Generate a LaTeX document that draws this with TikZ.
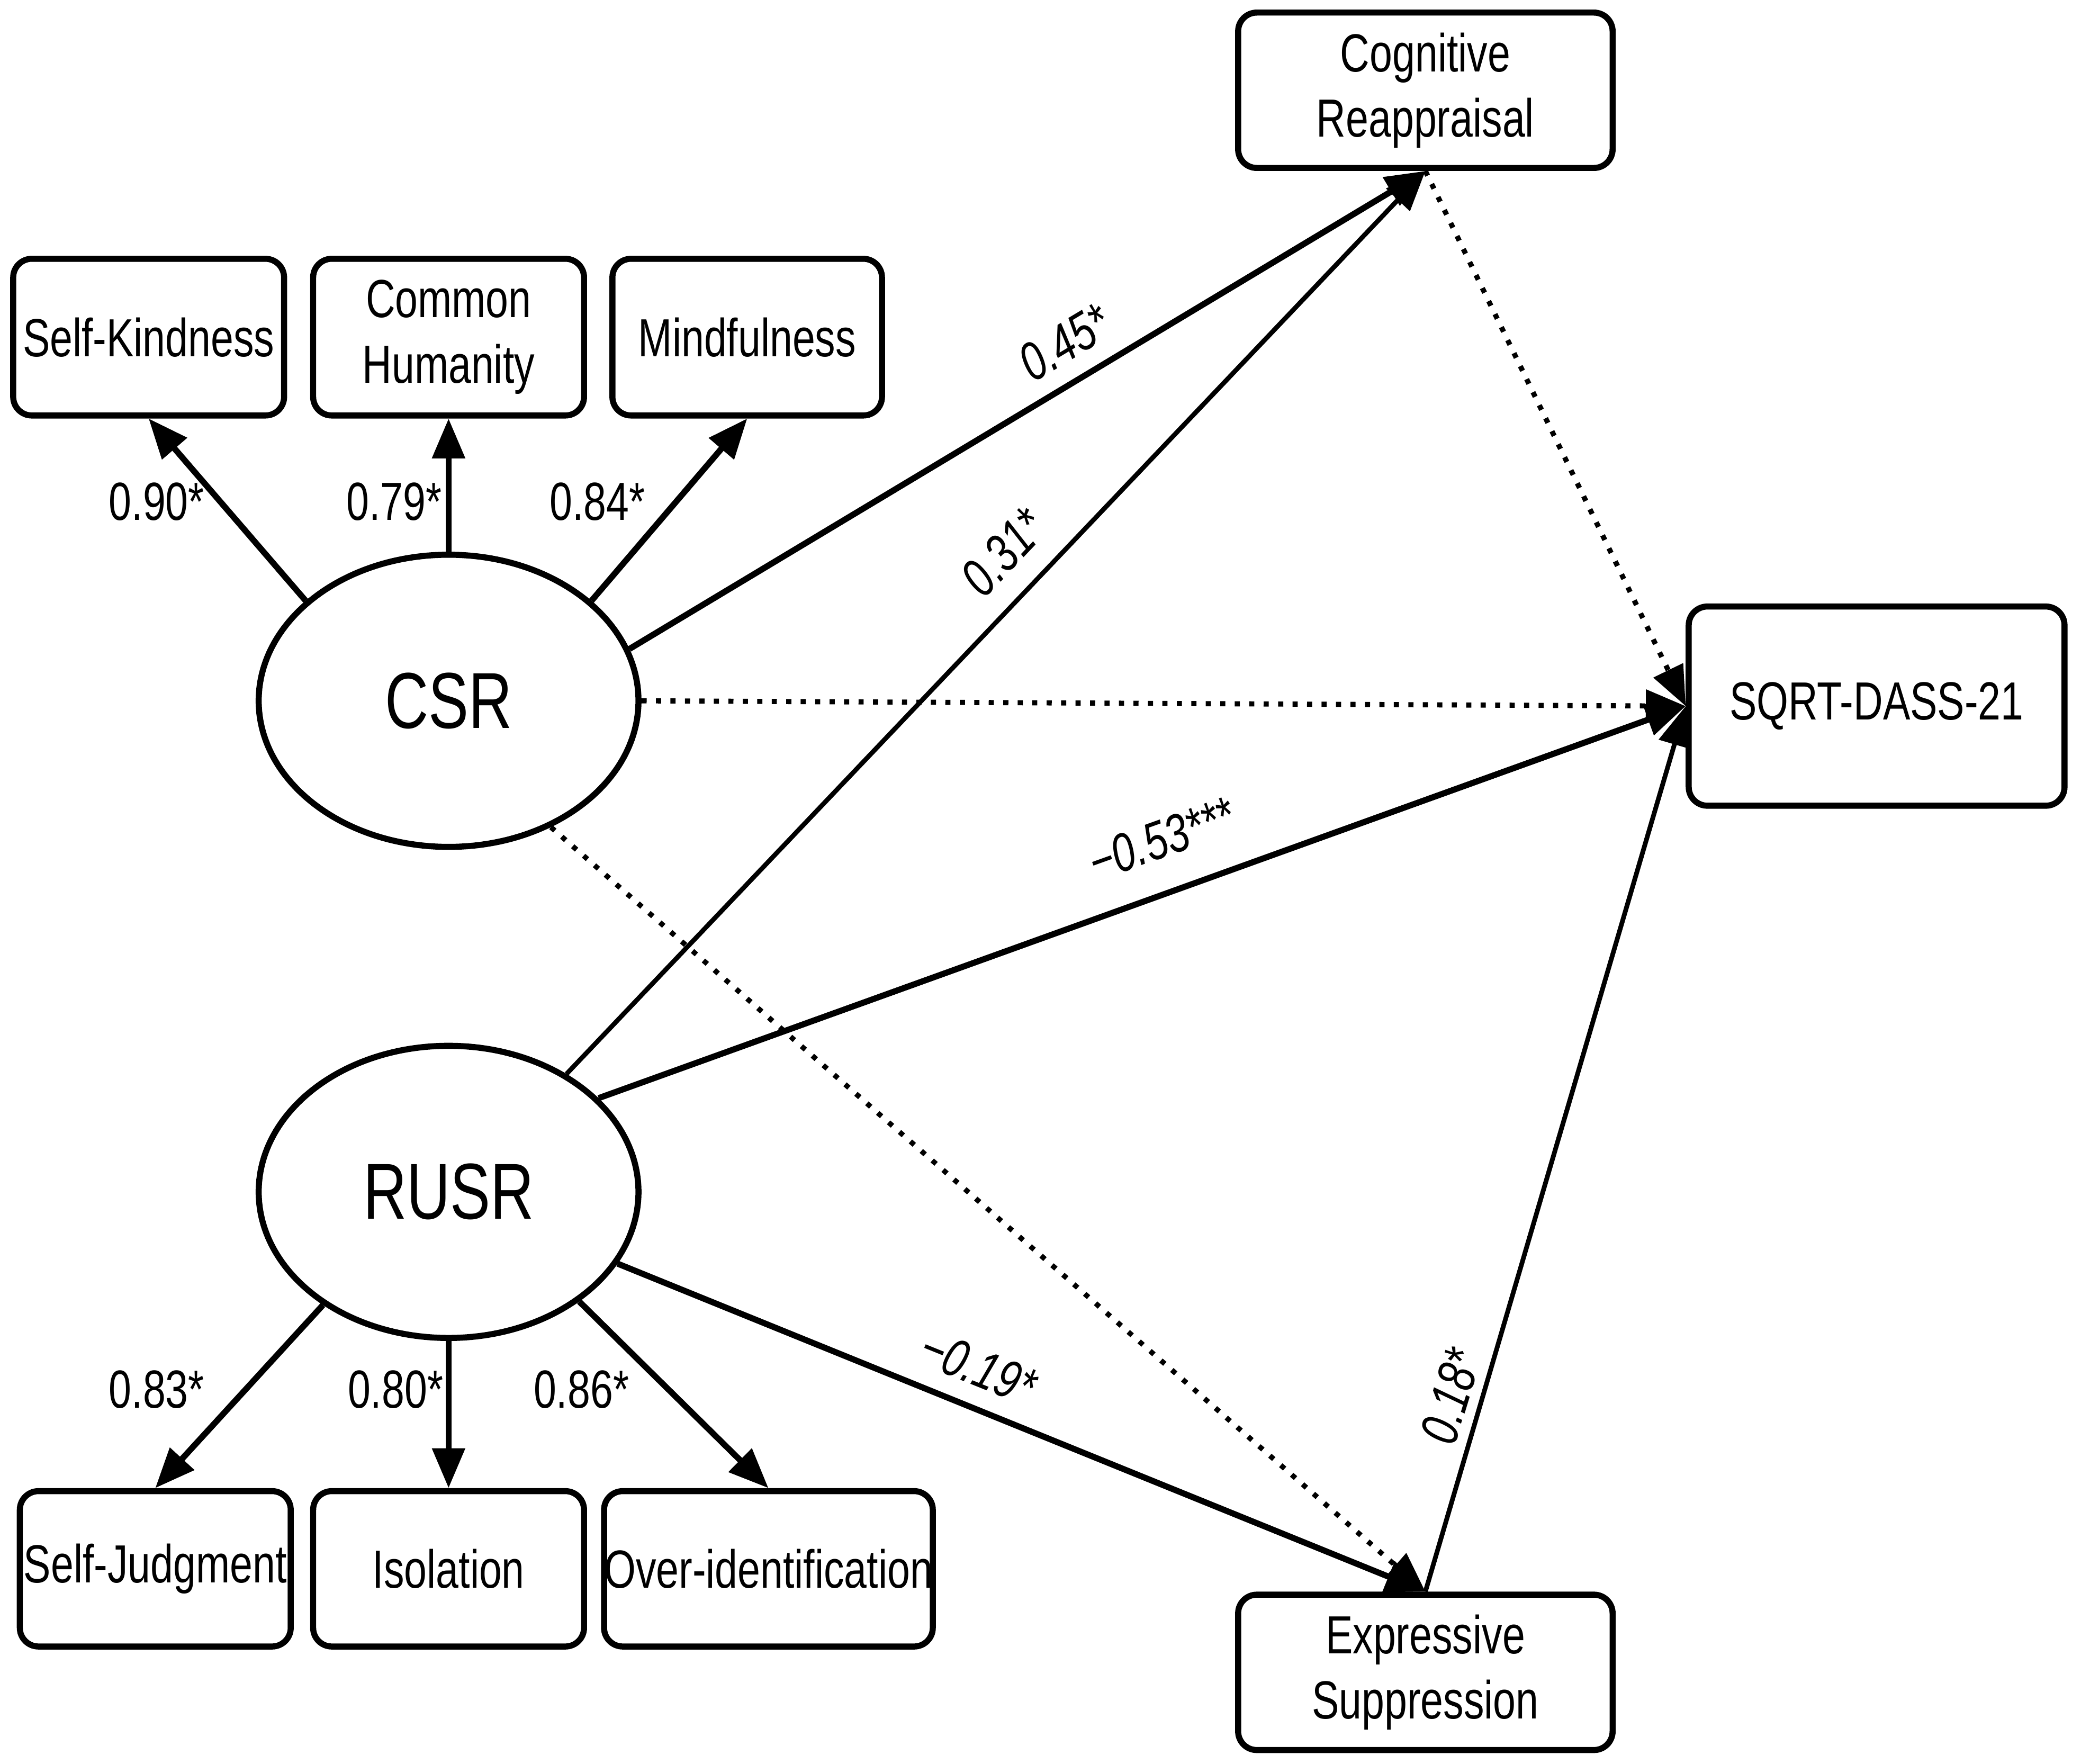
\documentclass[tikz,border=0pt]{standalone}
\usepackage{fontspec}
\setmainfont{Liberation Sans}[FakeStretch=0.76]
\usetikzlibrary{arrows.meta,shapes.geometric}
\begin{document}
\begin{tikzpicture}[x=0.01cm,y=-0.01cm,
  box/.style={draw,line width=1.3pt,rounded corners=4pt,align=center,font=\fontsize{11.5}{14}\selectfont,inner sep=0pt},
  lat/.style={draw,ellipse,line width=1.3pt,minimum width=2.86cm,minimum height=2.2cm,font=\fontsize{17}{20}\selectfont},
  arr/.style={line width=1.3pt,-{Triangle[length=3mm,width=2.4mm]}},
  thin/.style={line width=1pt,-{Triangle[length=3mm,width=2.4mm]}},
  dot/.style={line width=1.1pt,dotted,-{Triangle[length=3mm,width=2.4mm]}},
  lab/.style={font=\fontsize{11.5}{14}\selectfont},
  ilab/.style={font=\fontsize{11.5}{14}\selectfont\itshape}]
\useasboundingbox (0,0) rectangle (1568,1329);
\node[box,minimum width=2.04cm,minimum height=1.18cm] (sk) at (112,254) {Self-Kindness};
\node[box,minimum width=2.04cm,minimum height=1.18cm] (ch) at (338,254) {Common\\Humanity};
\node[box,minimum width=2.03cm,minimum height=1.18cm] (mf) at (563,254) {Mindfulness};
\node[box,minimum width=2.82cm,minimum height=1.17cm] (cr) at (1074,68) {Cognitive\\Reappraisal};
\node[box,minimum width=2.83cm,minimum height=1.5cm] (sq) at (1414,532) {SQRT-DASS-21};
\node[box,minimum width=2.04cm,minimum height=1.17cm] (sj) at (117,1182) {Self-Judgment};
\node[box,minimum width=2.04cm,minimum height=1.17cm] (is) at (338,1182) {Isolation};
\node[box,minimum width=2.45cm,minimum height=1.17cm] (oi) at (579,1182) {Over-identification};
\node[box,minimum width=2.82cm,minimum height=1.17cm] (es) at (1074,1260) {Expressive\\Suppression};
\node[lat] (csr) at (338,528) {CSR};
\node[lat] (rusr) at (338,898) {RUSR};

\draw[arr] (csr.145) -- (sk.south);
\draw[arr] (csr.90) -- (ch.south);
\draw[arr] (csr.35) -- (mf.south);
\draw[arr] (rusr.-138) -- (sj.north);
\draw[arr] (rusr.-90) -- (is.north);
\draw[arr] (rusr.-40) -- (oi.north);
\node[lab] at (118,378) {0.90*};
\node[lab] at (297,378) {0.79*};
\node[lab] at (450,378) {0.84*};
\node[lab] at (118,1047) {0.83*};
\node[lab] at (298,1047) {0.80*};
\node[lab] at (438,1047) {0.86*};

\draw[arr] (csr.16) -- (cr.south);
\draw[thin] (rusr.45) -- (cr.south);
\draw[dot] (cr.south) -- (sq.west);
\draw[dot] (csr.0) -- (sq.west);
\draw[arr] (rusr.32) -- (sq.west);
\draw[dot] (csr.-51) -- (es.north);
\draw[arr] (rusr.-23) -- (es.north);
\draw[thin] (es.north) -- (sq.west);
\node[ilab,rotate=31] at (802,258) {0.45*};
\node[ilab,rotate=46.5] at (756,416) {0.31*};
\node[ilab,rotate=19.7] at (875,632) {\textminus0.53***};
\node[ilab,rotate=-22] at (737,1030) {\textminus0.19*};
\node[ilab,rotate=73] at (1093,1052) {0.18*};
\end{tikzpicture}
\end{document}
